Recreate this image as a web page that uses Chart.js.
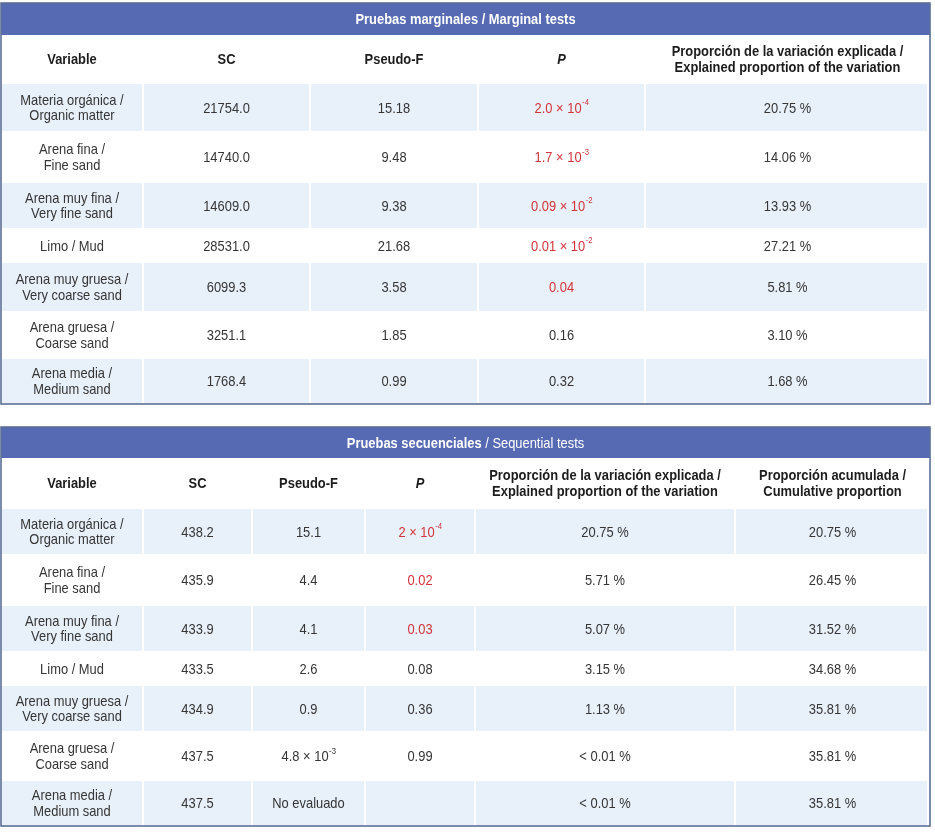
<!DOCTYPE html>
<html><head><meta charset="utf-8">
<script src="https://cdn.jsdelivr.net/npm/chart.js@4.4.1/dist/chart.umd.min.js"></script>
<style>html,body{margin:0;padding:0;background:#fff;} canvas{display:block;}</style>
</head><body>
<canvas id="c" width="935" height="835"></canvas>
<script>
// ---------- DATA ----------
const variables = [
  'Materia orgánica /\nOrganic matter',
  'Arena fina /\nFine sand',
  'Arena muy fina /\nVery fine sand',
  'Limo / Mud',
  'Arena muy gruesa /\nVery coarse sand',
  'Arena gruesa /\nCoarse sand',
  'Arena media /\nMedium sand'
];
// Marginal tests
const margSC = [21754.0, 14740.0, 14609.0, 28531.0, 6099.3, 3251.1, 1768.4];
const margPseudoF = [15.18, 9.48, 9.38, 21.68, 3.58, 1.85, 0.99];
const margPText = ['2.0 × 10^-4', '1.7 × 10^-3', '0.09 × 10^-2', '0.01 × 10^-2', '0.04', '0.16', '0.32'];
const margPValue = [2.0e-4, 1.7e-3, 0.09e-2, 0.01e-2, 0.04, 0.16, 0.32];
const margProp = [20.75, 14.06, 13.93, 27.21, 5.81, 3.10, 1.68];
// Sequential tests
const seqSC = [438.2, 435.9, 433.9, 433.5, 434.9, 437.5, 437.5];
const seqPseudoFText = ['15.1', '4.4', '4.1', '2.6', '0.9', '4.8 × 10^-3', 'No evaluado'];
const seqPText = ['2 × 10^-4', '0.02', '0.03', '0.08', '0.36', '0.99', ''];
const seqPValue = [2e-4, 0.02, 0.03, 0.08, 0.36, 0.99, null];
const seqPropText = ['20.75 %', '5.71 %', '5.07 %', '3.15 %', '1.13 %', '< 0.01 %', '< 0.01 %'];
const seqCumulative = [20.75, 26.45, 31.52, 34.68, 35.81, 35.81, 35.81];
// Headers
const margHeaders = ['Variable', 'SC', 'Pseudo-F', '~P', 'Proporción de la variación explicada /\nExplained proportion of the variation'];
const seqHeaders = ['Variable', 'SC', 'Pseudo-F', '~P', 'Proporción de la variación explicada /\nExplained proportion of the variation', 'Proporción acumulada /\nCumulative proportion'];
const margTitle = [['Pruebas marginales / Marginal tests', true]];
const seqTitle = [['Pruebas secuenciales', true], [' / Sequential tests', false]];
const ALPHA = 0.05;

// ---------- LAYOUT / STYLE ----------
const FONT = '"Liberation Sans", Arial, Helvetica, sans-serif';
const FS = 15;       // font size
const SX = 0.86;     // horizontal condensing of glyphs
const LH = 15.5;     // line height
const COL = { bar: '#5669b3', light: '#e8f0fa', frame: '#5a6f98', text: '#353535', head: '#1c1c1c', red: '#d3343c', title: '#ffffff' };

function buildMarg() {
  return variables.map((v, i) => [
    { t: v }, { t: margSC[i].toFixed(1) }, { t: margPseudoF[i].toFixed(2) },
    { t: margPText[i], red: margPValue[i] < ALPHA }, { t: margProp[i].toFixed(2) + ' %' }
  ]);
}
function buildSeq() {
  return variables.map((v, i) => [
    { t: v }, { t: seqSC[i].toFixed(1) }, { t: seqPseudoFText[i] },
    { t: seqPText[i], red: seqPValue[i] !== null && seqPValue[i] < ALPHA },
    { t: seqPropText[i] }, { t: seqCumulative[i].toFixed(2) + ' %' }
  ]);
}
const tables = [
  { title: margTitle, top: 3, titleBottom: 35, headBottom: 83,
    rowEdges: [83, 132, 182, 229, 262, 312, 358, 404],
    colEdges: [1, 143, 310, 478, 645, 930], headers: margHeaders, rows: buildMarg() },
  { title: seqTitle, top: 427, titleBottom: 458, headBottom: 508,
    rowEdges: [508, 555, 605, 652, 685, 732, 780, 826],
    colEdges: [1, 143, 252, 365, 475, 735, 930], headers: seqHeaders, rows: buildSeq() }
];

function fnt(size, weight, italic) { return (italic ? 'italic ' : '') + weight + ' ' + size + 'px ' + FONT; }
function wid(ctx, s, font) { ctx.font = font; return ctx.measureText(s).width * SX; }
function put(ctx, s, x, y, font, color) {
  ctx.save();
  ctx.font = font; ctx.fillStyle = color; ctx.textAlign = 'left'; ctx.textBaseline = 'middle';
  ctx.translate(x, y); ctx.scale(SX, 1); ctx.fillText(s, 0, 0);
  ctx.restore();
}
function drawLine(ctx, text, cx, cy, weight, color) {
  let italic = false, s = text;
  if (s.startsWith('~')) { italic = true; s = s.slice(1); }
  const parts = s.split('^');
  const base = parts[0], sup = parts[1] || '';
  const f1 = fnt(FS, weight, italic), f2 = fnt(Math.round(FS * 0.6), weight, false);
  const w1 = wid(ctx, base, f1), w2 = sup ? wid(ctx, sup, f2) : 0;
  const x = cx - (w1 + w2) / 2;
  put(ctx, base, x, cy, f1, color);
  if (sup) put(ctx, sup, x + w1 + 0.5, cy - 5.5, f2, color);
}
function drawCellText(ctx, text, cx, cy, weight, color) {
  const lines = text.split('\n');
  lines.forEach((ln, k) => {
    drawLine(ctx, ln, cx, cy + (k - (lines.length - 1) / 2) * LH, weight, color);
  });
}

const tablePlugin = {
  id: 'tablePlugin',
  beforeDraw(chart) {
    const ctx = chart.ctx, xs = chart.scales.x, ys = chart.scales.y;
    const X = v => xs.getPixelForValue(v), Y = v => ys.getPixelForValue(v);
    ctx.save();
    ctx.fillStyle = '#fff'; ctx.fillRect(0, 0, chart.width, chart.height);
    tables.forEach(t => {
      const ce = t.colEdges, re = t.rowEdges;
      const L = ce[0], R = ce[ce.length - 1];
      // title bar
      ctx.fillStyle = COL.bar;
      ctx.fillRect(X(L), Y(t.top), X(R) - X(L), Y(t.titleBottom) - Y(t.top));
      // title text (mixed weights)
      let tw = 0;
      t.title.forEach(([s, b]) => { tw += wid(ctx, s, fnt(FS, b ? 'bold' : 'normal')); });
      let tx = X((L + R) / 2) - tw / 2; const ty = Y((t.top + t.titleBottom) / 2) + 1;
      t.title.forEach(([s, b]) => { const f = fnt(FS, b ? 'bold' : 'normal'); put(ctx, s, tx, ty, f, COL.title); tx += wid(ctx, s, f); });
      // column headers
      t.headers.forEach((h, c) => {
        drawCellText(ctx, h, X((ce[c] + ce[c + 1]) / 2), Y((t.titleBottom + t.headBottom) / 2) + 1, 'bold', COL.head);
      });
      // body rows
      t.rows.forEach((row, r) => {
        const y0 = re[r], y1 = re[r + 1];
        if (r % 2 === 0) {
          ctx.fillStyle = COL.light;
          row.forEach((cell, c) => {
            const x0 = ce[c] + 1;
            const x1 = c === row.length - 1 ? ce[c + 1] - 3 : ce[c + 1] - 1;
            ctx.fillRect(X(x0), Y(y0 + 1), X(x1) - X(x0), Y(y1 - 1) - Y(y0 + 1));
          });
        }
        row.forEach((cell, c) => {
          if (!cell.t) return;
          drawCellText(ctx, cell.t, X((ce[c] + ce[c + 1]) / 2), Y((y0 + y1) / 2) + 1, 'normal', cell.red ? COL.red : COL.text);
        });
      });
      // frame
      ctx.strokeStyle = COL.frame; ctx.lineWidth = 1.6;
      ctx.strokeRect(X(L), Y(t.top), X(R) - X(L), Y(re[re.length - 1]) - Y(t.top));
    });
    ctx.restore();
  }
};

new Chart(document.getElementById('c'), {
  type: 'scatter',
  data: { datasets: [] },
  options: {
    responsive: false,
    animation: false,
    layout: { padding: 0 },
    plugins: { legend: { display: false }, tooltip: { enabled: false } },
    scales: {
      x: { type: 'linear', min: 0, max: 935, display: false },
      y: { type: 'linear', min: 0, max: 835, reverse: true, display: false }
    }
  },
  plugins: [tablePlugin]
});
</script>
</body></html>
